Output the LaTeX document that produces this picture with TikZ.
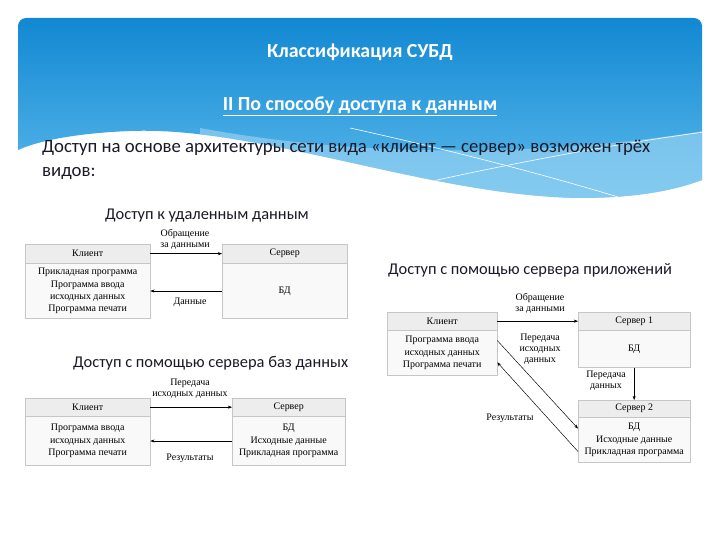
\documentclass[tikz,border=0pt]{standalone}
\usepackage{fontspec}
\setmainfont{Carlito}
\newfontfamily\diagfont{Liberation Serif}
\usetikzlibrary{arrows.meta,positioning}

\definecolor{hdtop}{RGB}{18,136,210}
\definecolor{hdbot}{RGB}{92,186,236}
\definecolor{hdwave}{RGB}{160,214,244}
\definecolor{inktext}{RGB}{25,25,40}

\tikzset{
  cell/.style={draw=gray!45, line width=0.3pt, fill=gray!5, anchor=north west,
    inner sep=1pt, align=center, font=\diagfont\fontsize{8.5}{10.5}\selectfont},
  head/.style={cell, fill=gray!14},
  lbl/.style={align=center, inner sep=1pt, font=\diagfont\fontsize{8.5}{9.5}\selectfont},
  topic/.style={anchor=west, inner sep=0pt, text=inktext, font=\fontsize{14}{16}\selectfont},
  flow/.style={-{Stealth[length=3.5pt,width=2.6pt]}, line width=0.4pt},
}

\begin{document}
\begin{tikzpicture}[x=0.03cm, y=-0.03cm]
  \useasboundingbox (0,0) rectangle (720,540);

  % header band
  \shade[top color=hdtop, bottom color=hdbot] (18,150) [rounded corners=7pt] -- (18,18) -- (702,18) -- (702,30)
    [sharp corners] -- (702,180) .. controls (670,192) and (630,198) .. (580,198)
    .. controls (430,196) and (260,126) .. (130,131) .. controls (80,133) and (40,140) .. (18,150) -- cycle;
  \begin{scope}
    \clip (18,18) -- (702,18) -- (702,180) .. controls (670,192) and (630,198) .. (580,198)
      .. controls (430,196) and (260,126) .. (130,131) .. controls (80,133) and (40,140) .. (18,150) -- cycle;
    \fill[hdwave, opacity=0.6] (200,128) .. controls (400,165) and (600,150) .. (720,128) -- (720,220) -- (200,220) -- cycle;
    \draw[white, line width=0.5pt] (720,130) .. controls (600,145) and (450,175) .. (330,205);
    \draw[white, line width=0.5pt] (350,128) .. controls (450,150) and (560,178) .. (660,210);
  \end{scope}

  \node[text=white, font=\fontsize{17}{19}\selectfont\bfseries] (title) at (360,52) {Классификация СУБД};
  \node[text=white, font=\fontsize{17}{19}\selectfont\bfseries] (subtitle) at (360,106) {\underline{II По способу доступа к данным}};
  \node[topic, font=\fontsize{16}{18}\selectfont] (intro) at (42,148) {Доступ на основе архитектуры сети вида «клиент — сервер» возможен трёх};
  \node[topic, font=\fontsize{16}{18}\selectfont] (introb) at (42,173) {видов:};

  % remote data access
  \node[topic] (cap1) at (105,216) {Доступ к удаленным данным};
  \node[head, minimum width=3.75cm, minimum height=0.57cm] (k1h) at (25,244) {Клиент};
  \node[cell, minimum width=3.75cm, minimum height=1.65cm, below=0pt of k1h] (k1b)
    {Прикладная программа\\Программа ввода\\исходных данных\\Программа печати};
  \node[head, minimum width=3.75cm, minimum height=0.57cm] (s1h) at (222,244) {Сервер};
  \node[cell, minimum width=3.75cm, minimum height=1.65cm, below=0pt of s1h] (s1b) {БД};
  \node[lbl] (q1) at (185,239) {Обращение\\за данными};
  \node[lbl] (d1) at (190,302) {Данные};
  \draw[flow] (k1h.east) -- (s1h.west);
  \draw[flow] (s1b.west) -- (k1b.east);

  % database server
  \node[topic] (cap2) at (73,363) {Доступ с помощью сервера баз данных};
  \node[head, minimum width=3.75cm, minimum height=0.54cm] (k2h) at (25,398) {Клиент};
  \node[cell, minimum width=3.75cm, minimum height=1.47cm, below=0pt of k2h] (k2b)
    {Программа ввода\\исходных данных\\Программа печати};
  \node[head, minimum width=3.39cm, minimum height=0.54cm] (s2h) at (232,398) {Сервер};
  \node[cell, minimum width=3.39cm, minimum height=1.47cm, below=0pt of s2h] (s2b)
    {БД\\Исходные данные\\Прикладная программа};
  \node[lbl] (q2) at (190,389) {Передача\\исходных данных};
  \node[lbl] (d2) at (190,458) {Результаты};
  \draw[flow] (k2h.east) -- (s2h.west);
  \draw[flow] (s2b.west) -- (k2b.east);

  % application server
  \node[topic] (cap3) at (388,270) {Доступ с помощью сервера приложений};
  \node[head, minimum width=3.3cm, minimum height=0.54cm] (k3h) at (387,312) {Клиент};
  \node[cell, minimum width=3.3cm, minimum height=1.35cm, below=0pt of k3h] (k3b)
    {Программа ввода\\исходных данных\\Программа печати};
  \node[head, minimum width=3.36cm, minimum height=0.54cm] (s3h) at (578,312) {Сервер 1};
  \node[cell, minimum width=3.36cm, minimum height=1.11cm, below=0pt of s3h] (s3b) {БД};
  \node[head, minimum width=3.36cm, minimum height=0.51cm] (t3h) at (578,400) {Сервер 2};
  \node[cell, minimum width=3.36cm, minimum height=1.35cm, below=0pt of t3h] (t3b)
    {БД\\Исходные данные\\Прикладная программа};
  \node[lbl] (q3) at (540,303) {Обращение\\за данными};
  \node[lbl] (p3) at (540,349) {Передача\\исходных\\данных};
  \node[lbl] (m3) at (606,381) {Передача\\данных};
  \node[lbl] (d3) at (510,418) {Результаты};
  \draw[flow] (k3h.east) -- (s3h.west);
  \draw[flow] (s3b.south) -- (t3h.north);
  \draw[flow] ([yshift=10.6pt]k3b.east) -- ([yshift=9.8pt]t3b.west);
  \draw[flow] ([yshift=-9.8pt]t3b.west) -- ([yshift=-8pt]k3b.east);
\end{tikzpicture}
\end{document}
